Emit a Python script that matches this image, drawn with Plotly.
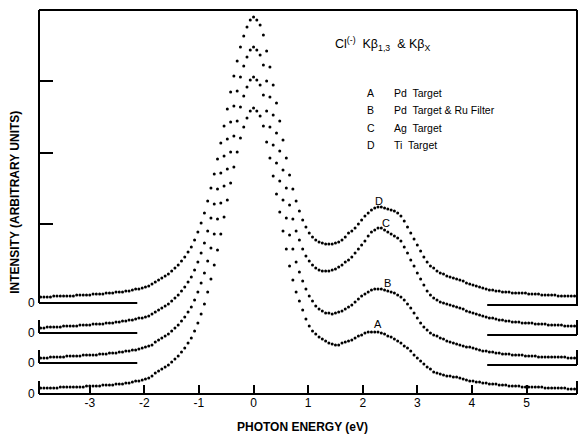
import plotly.graph_objects as go

# ---- data -------------------------------------------------------------
energy_start = -3.90
energy_step = 0.06
n_points = 164
energy = [round(energy_start + energy_step * i, 2) for i in range(n_points)]

int_D = [6,6,6,6,7,7,7,7,7,7,7,8,8,8,8,8,9,9,9,9,10,10,10,11,11,11,12,12,13,14,14,15,16,17,19,
         21,23,25,27,29,32,35,38,42,46,51,56,63,71,80,90,102,115,129,144,160,177,194,211,227,242,256,267,276,283,286,
         283,278,268,252,236,218,200,182,163,145,128,114,102,92,
         83,76,70,66,63,61,60,59,59,59,
         60,61,63,66,70,72,75,79,83,87,
         90,93,95,96,96,95,94,93,92,90,
         87,82,76,70,64,58,52,46,41,37,
         35,32,30,29,27,26,25,24,23,22,
         20,19,18,17,16,15,14,13,13,12,
         12,11,11,11,10,10,10,10,10,9,
         9,9,9,8,8,8,8,8,7,7,
         7,7,7,7]

int_C = [5,5,6,6,6,6,6,7,7,7,7,7,8,8,8,8,9,9,9,9,10,10,10,11,11,12,12,13,13,14,15,15,16,17,19,
         21,23,25,27,29,32,35,38,42,46,51,56,63,71,80,90,102,115,129,144,160,177,194,211,227,242,256,267,276,283,286,
         283,278,268,252,236,218,200,182,163,145,128,114,102,93,
         84,77,72,68,65,63,62,62,62,63,
         64,66,68,71,73,76,80,84,88,92,
         97,101,103,105,105,103,101,99,97,95,
         92,86,80,73,67,60,54,48,42,38,
         35,33,31,30,29,28,27,26,25,24,
         22,21,20,19,18,17,16,15,15,14,
         13,13,12,12,11,11,11,10,10,10,
         10,9,9,9,9,8,8,8,8,8,
         7,7,7,7]

int_B = [5,5,5,6,6,6,6,6,7,7,7,7,7,8,8,8,8,8,9,9,9,10,10,10,11,11,12,12,13,13,14,15,16,17,18,
         21,23,25,27,29,32,35,38,42,46,51,56,63,71,80,90,102,115,129,144,160,177,194,211,227,242,256,267,276,283,286,
         283,278,268,252,236,218,200,182,163,145,128,114,101,91,
         82,74,67,62,57,54,52,50,50,49,
         50,51,52,54,56,58,61,64,67,69,
         71,73,74,74,74,73,72,71,70,68,
         66,63,59,55,50,45,40,36,33,30,
         28,27,25,24,22,21,20,19,18,17,
         16,16,15,14,13,12,12,11,11,10,
         10,9,9,9,8,8,8,8,7,7,
         7,7,6,6,6,6,6,6,6,6,
         6,5,5,5]

int_A = [6,6,6,6,6,6,7,7,7,7,7,7,7,7,8,8,8,8,8,9,9,9,9,10,10,10,11,11,12,13,13,14,15,16,18,
         21,23,25,27,29,32,35,38,42,46,51,56,63,71,80,90,102,115,129,144,160,177,194,211,227,242,256,267,276,283,286,
         283,278,268,252,236,218,200,182,163,145,128,114,102,93,
         84,75,68,63,60,57,55,53,51,50,
         49,49,51,52,53,54,56,58,59,61,
         62,62,62,62,61,60,58,57,55,53,
         51,48,46,43,39,36,33,30,27,25,
         22,21,20,19,18,18,17,17,16,15,
         14,13,13,12,12,11,11,10,10,10,
         9,9,9,8,8,8,8,7,7,7,
         7,7,7,7,6,6,6,6,6,6,
         6,5,5,5]

series_names = ["A", "B", "C", "D"]
series_values = [int_A, int_B, int_C, int_D]
baseline_offsets = [0, 31, 61, 91]

x_tick_vals = [-3, -2, -1, 0, 1, 2, 3, 4, 5]
x_tick_text = ["-3", "-2", "-1", "0", "1", "2", "3", "4", "5"]
y_tick_vals = [170, 241, 313]

legend_letters = ["A", "B", "C", "D"]
legend_labels = ["Pd  Target", "Pd  Target & Ru Filter", "Ag  Target", "Ti  Target"]

# ---- layout constants --------------------------------------------------
X0, X1 = -3.93, 5.925
Y0, Y1 = 0, 384
left_line_end = -2.13
right_line_start = 4.28
FONT = "Liberation Sans, Arial, sans-serif"


def px(xv):
    return (xv - X0) / (X1 - X0)


def py(yv):
    return (yv - Y0) / (Y1 - Y0)


fig = go.Figure()
for name, vals, off in zip(series_names, series_values, baseline_offsets):
    fig.add_trace(go.Scatter(
        x=energy, y=[off + v for v in vals], mode="markers", name=name,
        marker=dict(color="black", size=3), showlegend=False,
        hoverinfo="skip"))

shapes = []
line = dict(color="black", width=2)


def seg(xa, ya, xb, yb):
    shapes.append(dict(type="line", xref="paper", yref="paper",
                       x0=px(xa), x1=px(xb), y0=py(ya), y1=py(yb), line=line))


# main frame around curve D
seg(X0, baseline_offsets[3], X0, Y1)
seg(X0, Y1, X1, Y1)
seg(X1, Y1, X1, baseline_offsets[3] - 3)
# bottom axis (A baseline)
seg(X0, 0, X1, 0)
for off in baseline_offsets[1:]:
    seg(X0, off, left_line_end, off)
    seg(right_line_start, off - 2, X1, off - 2)
for off in baseline_offsets[:3]:
    seg(X0, off, X0, off + 13)
    seg(X1, (off - 2) if off else 0, X1, off + 13)

annotations = []
for off in baseline_offsets:
    annotations.append(dict(x=X0, y=off, xref="x", yref="y", text="0", showarrow=False,
                            xanchor="right", yanchor="middle", xshift=-2,
                            font=dict(family=FONT, size=12, color="black")))
# curve labels
label_pos = {"A": (2.28, 70), "B": (2.45, 111), "C": (2.43, 171), "D": (2.30, 193)}
for k, (lx, ly) in label_pos.items():
    annotations.append(dict(x=lx, y=ly, text=k, showarrow=False,
                            font=dict(family=FONT, size=11, color="black")))
# header
annotations.append(dict(x=1.46, y=350, xanchor="left", showarrow=False,
                        text="Cl<sup>(-)</sup>  Kβ<sub>1,3</sub>  & Kβ<sub>X</sub>",
                        font=dict(family=FONT, size=12.5, color="black")))
rows_y = [301, 284, 266, 249]
for letter, lab, ry in zip(legend_letters, legend_labels, rows_y):
    annotations.append(dict(x=2.04, y=ry, xanchor="left", showarrow=False, text=letter,
                            font=dict(family=FONT, size=10.5, color="black")))
    annotations.append(dict(x=2.54, y=ry, xanchor="left", showarrow=False, text=lab,
                            font=dict(family=FONT, size=10.5, color="black")))
# axis titles
annotations.append(dict(x=0.49, y=-0.085, xref="paper", yref="paper", showarrow=False,
                        text="<b>PHOTON ENERGY (eV)</b>", yanchor="middle",
                        font=dict(family=FONT, size=12, color="black")))
annotations.append(dict(x=-0.045, y=0.50, xref="paper", yref="paper", showarrow=False,
                        text="<b>INTENSITY (ARBITRARY UNITS)</b>", textangle=-90,
                        xanchor="center", yanchor="middle",
                        font=dict(family=FONT, size=12, color="black")))

fig.update_layout(
    width=581, height=435,
    margin=dict(l=39, r=4, t=10, b=41),
    paper_bgcolor="white", plot_bgcolor="white",
    shapes=shapes, annotations=annotations,
    xaxis=dict(range=[X0, X1], showgrid=False, zeroline=False, showline=False,
               ticks="inside", ticklen=9, tickwidth=2, tickcolor="black",
               tickvals=x_tick_vals, ticktext=x_tick_text,
               tickfont=dict(family=FONT, size=12, color="black")),
    yaxis=dict(range=[Y0, Y1], showgrid=False, zeroline=False, showline=False,
               ticks="inside", ticklen=14, tickwidth=2, tickcolor="black",
               tickvals=y_tick_vals, showticklabels=False),
)

fig.write_html("out.html", config={"displayModeBar": False},
               post_script="document.body.style.margin='0';")
